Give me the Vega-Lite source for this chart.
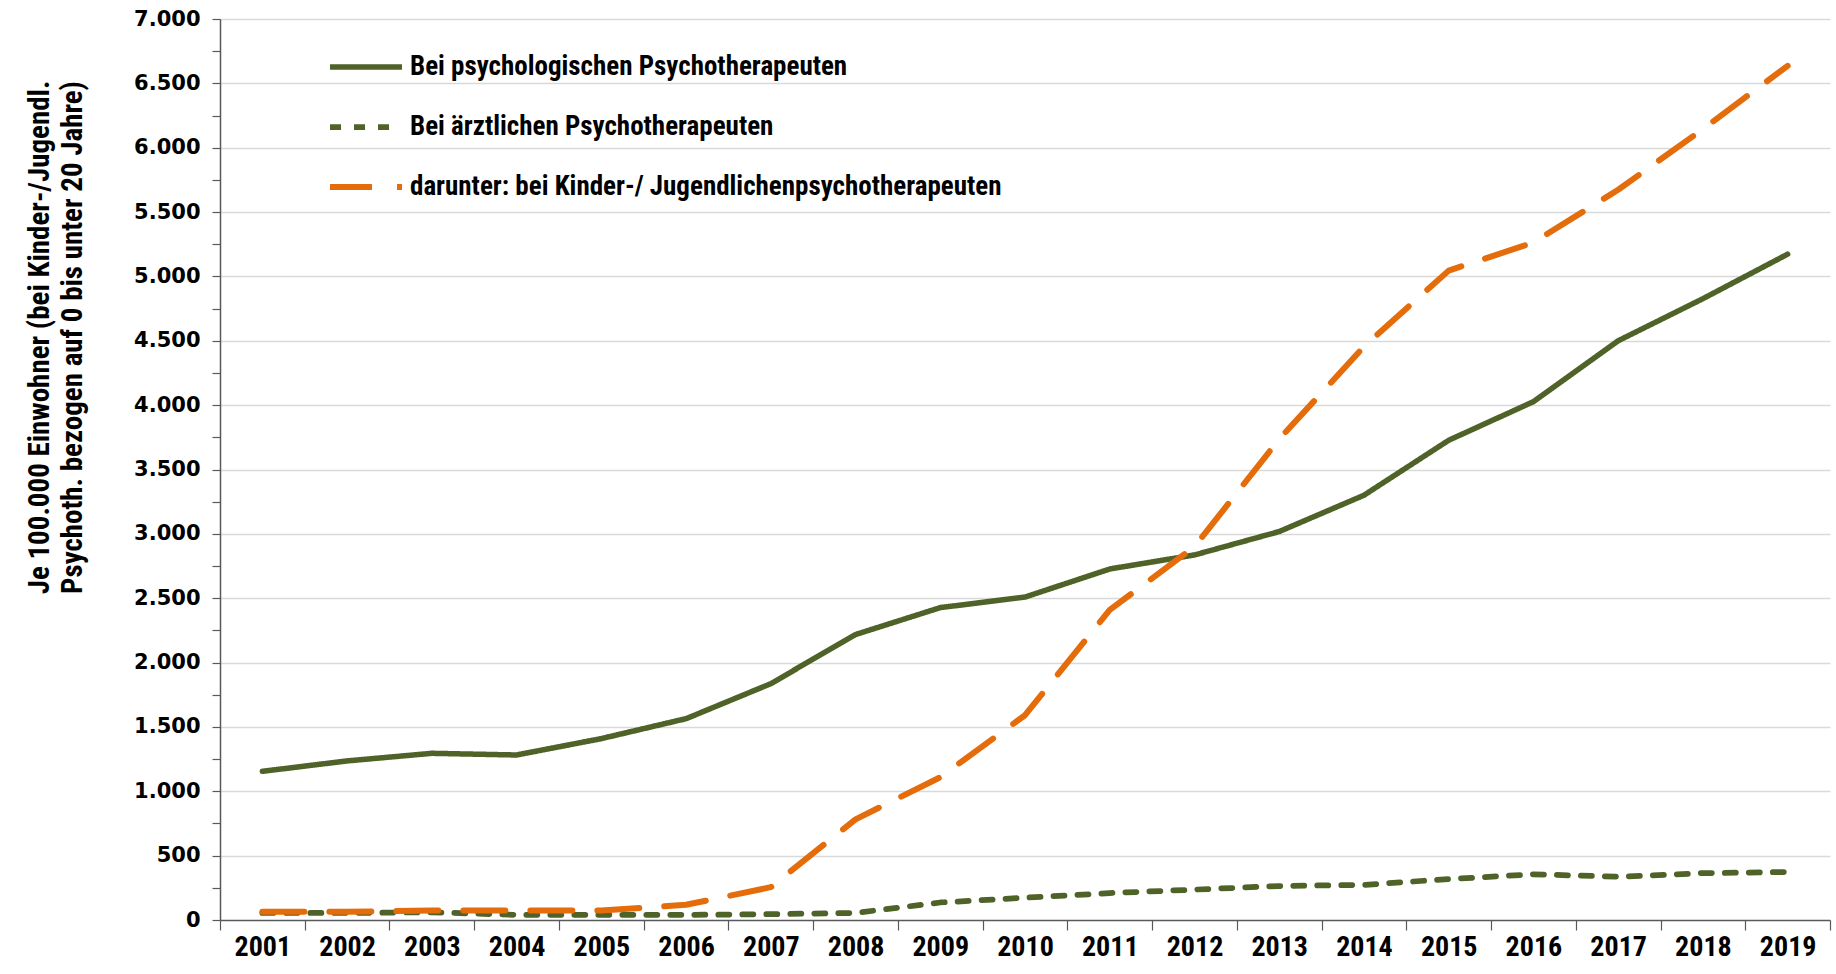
{
  "$schema": "https://vega.github.io/schema/vega-lite/v6.json",
  "autosize": {"type": "none"},
  "width": 1610,
  "height": 901,
  "padding": {"left": 220, "top": 19, "right": 6, "bottom": 54},
  "background": "white",
  "config": {"view": {"stroke": null}},
  "data": {"values": [
    {"Jahr": "2001", "Reihe": "Bei psychologischen Psychotherapeuten", "Wert": 1155},
    {"Jahr": "2002", "Reihe": "Bei psychologischen Psychotherapeuten", "Wert": 1236},
    {"Jahr": "2003", "Reihe": "Bei psychologischen Psychotherapeuten", "Wert": 1295},
    {"Jahr": "2004", "Reihe": "Bei psychologischen Psychotherapeuten", "Wert": 1282},
    {"Jahr": "2005", "Reihe": "Bei psychologischen Psychotherapeuten", "Wert": 1409},
    {"Jahr": "2006", "Reihe": "Bei psychologischen Psychotherapeuten", "Wert": 1564},
    {"Jahr": "2007", "Reihe": "Bei psychologischen Psychotherapeuten", "Wert": 1836},
    {"Jahr": "2008", "Reihe": "Bei psychologischen Psychotherapeuten", "Wert": 2218},
    {"Jahr": "2009", "Reihe": "Bei psychologischen Psychotherapeuten", "Wert": 2427},
    {"Jahr": "2010", "Reihe": "Bei psychologischen Psychotherapeuten", "Wert": 2509},
    {"Jahr": "2011", "Reihe": "Bei psychologischen Psychotherapeuten", "Wert": 2727},
    {"Jahr": "2012", "Reihe": "Bei psychologischen Psychotherapeuten", "Wert": 2836},
    {"Jahr": "2013", "Reihe": "Bei psychologischen Psychotherapeuten", "Wert": 3018},
    {"Jahr": "2014", "Reihe": "Bei psychologischen Psychotherapeuten", "Wert": 3300},
    {"Jahr": "2015", "Reihe": "Bei psychologischen Psychotherapeuten", "Wert": 3727},
    {"Jahr": "2016", "Reihe": "Bei psychologischen Psychotherapeuten", "Wert": 4027},
    {"Jahr": "2017", "Reihe": "Bei psychologischen Psychotherapeuten", "Wert": 4500},
    {"Jahr": "2018", "Reihe": "Bei psychologischen Psychotherapeuten", "Wert": 4827},
    {"Jahr": "2019", "Reihe": "Bei psychologischen Psychotherapeuten", "Wert": 5173},
    {"Jahr": "2001", "Reihe": "Bei ärztlichen Psychotherapeuten", "Wert": 55},
    {"Jahr": "2002", "Reihe": "Bei ärztlichen Psychotherapeuten", "Wert": 55},
    {"Jahr": "2003", "Reihe": "Bei ärztlichen Psychotherapeuten", "Wert": 60},
    {"Jahr": "2004", "Reihe": "Bei ärztlichen Psychotherapeuten", "Wert": 40},
    {"Jahr": "2005", "Reihe": "Bei ärztlichen Psychotherapeuten", "Wert": 40},
    {"Jahr": "2006", "Reihe": "Bei ärztlichen Psychotherapeuten", "Wert": 40},
    {"Jahr": "2007", "Reihe": "Bei ärztlichen Psychotherapeuten", "Wert": 45},
    {"Jahr": "2008", "Reihe": "Bei ärztlichen Psychotherapeuten", "Wert": 55},
    {"Jahr": "2009", "Reihe": "Bei ärztlichen Psychotherapeuten", "Wert": 136},
    {"Jahr": "2010", "Reihe": "Bei ärztlichen Psychotherapeuten", "Wert": 173},
    {"Jahr": "2011", "Reihe": "Bei ärztlichen Psychotherapeuten", "Wert": 209},
    {"Jahr": "2012", "Reihe": "Bei ärztlichen Psychotherapeuten", "Wert": 236},
    {"Jahr": "2013", "Reihe": "Bei ärztlichen Psychotherapeuten", "Wert": 264},
    {"Jahr": "2014", "Reihe": "Bei ärztlichen Psychotherapeuten", "Wert": 273},
    {"Jahr": "2015", "Reihe": "Bei ärztlichen Psychotherapeuten", "Wert": 318},
    {"Jahr": "2016", "Reihe": "Bei ärztlichen Psychotherapeuten", "Wert": 355},
    {"Jahr": "2017", "Reihe": "Bei ärztlichen Psychotherapeuten", "Wert": 336},
    {"Jahr": "2018", "Reihe": "Bei ärztlichen Psychotherapeuten", "Wert": 364},
    {"Jahr": "2019", "Reihe": "Bei ärztlichen Psychotherapeuten", "Wert": 373},
    {"Jahr": "2001", "Reihe": "darunter: bei Kinder-/ Jugendlichenpsychotherapeuten", "Wert": 64},
    {"Jahr": "2002", "Reihe": "darunter: bei Kinder-/ Jugendlichenpsychotherapeuten", "Wert": 64},
    {"Jahr": "2003", "Reihe": "darunter: bei Kinder-/ Jugendlichenpsychotherapeuten", "Wert": 73},
    {"Jahr": "2004", "Reihe": "darunter: bei Kinder-/ Jugendlichenpsychotherapeuten", "Wert": 73},
    {"Jahr": "2005", "Reihe": "darunter: bei Kinder-/ Jugendlichenpsychotherapeuten", "Wert": 73},
    {"Jahr": "2006", "Reihe": "darunter: bei Kinder-/ Jugendlichenpsychotherapeuten", "Wert": 118},
    {"Jahr": "2007", "Reihe": "darunter: bei Kinder-/ Jugendlichenpsychotherapeuten", "Wert": 255},
    {"Jahr": "2008", "Reihe": "darunter: bei Kinder-/ Jugendlichenpsychotherapeuten", "Wert": 782},
    {"Jahr": "2009", "Reihe": "darunter: bei Kinder-/ Jugendlichenpsychotherapeuten", "Wert": 1109},
    {"Jahr": "2010", "Reihe": "darunter: bei Kinder-/ Jugendlichenpsychotherapeuten", "Wert": 1591},
    {"Jahr": "2011", "Reihe": "darunter: bei Kinder-/ Jugendlichenpsychotherapeuten", "Wert": 2409},
    {"Jahr": "2012", "Reihe": "darunter: bei Kinder-/ Jugendlichenpsychotherapeuten", "Wert": 2900},
    {"Jahr": "2013", "Reihe": "darunter: bei Kinder-/ Jugendlichenpsychotherapeuten", "Wert": 3736},
    {"Jahr": "2014", "Reihe": "darunter: bei Kinder-/ Jugendlichenpsychotherapeuten", "Wert": 4455},
    {"Jahr": "2015", "Reihe": "darunter: bei Kinder-/ Jugendlichenpsychotherapeuten", "Wert": 5045},
    {"Jahr": "2016", "Reihe": "darunter: bei Kinder-/ Jugendlichenpsychotherapeuten", "Wert": 5264},
    {"Jahr": "2017", "Reihe": "darunter: bei Kinder-/ Jugendlichenpsychotherapeuten", "Wert": 5673},
    {"Jahr": "2018", "Reihe": "darunter: bei Kinder-/ Jugendlichenpsychotherapeuten", "Wert": 6145},
    {"Jahr": "2019", "Reihe": "darunter: bei Kinder-/ Jugendlichenpsychotherapeuten", "Wert": 6636}
  ]},
  "mark": {"type": "line", "strokeCap": "round", "strokeJoin": "round", "interpolate": "linear"},
  "encoding": {
    "x": {
      "field": "Jahr", "type": "ordinal",
      "scale": {"type": "band", "paddingInner": 0, "paddingOuter": 0},
      "axis": {
        "title": null, "labelAngle": 0, "grid": false,
        "tickBand": "extent", "tickSize": 10, "tickColor": "#595959", "tickWidth": 1.2,
        "domainColor": "#595959", "domainWidth": 1.5,
        "labelFont": "Roboto Condensed, Liberation Sans", "labelFontWeight": "bold",
        "labelFontSize": 28, "labelColor": "#000000", "labelPadding": 3
      }
    },
    "y": {
      "field": "Wert", "type": "quantitative",
      "scale": {"domain": [0, 7000], "nice": false},
      "axis": {
        "title": ["Je 100.000 Einwohner (bei Kinder-/Jugendl.", "Psychoth. bezogen auf  0 bis unter 20 Jahre)"],
        "titleFont": "Roboto Condensed, Liberation Sans", "titleFontWeight": "bold",
        "titleFontSize": 29, "titleColor": "#000000", "titleLineHeight": 33,
        "titleAngle": 270, "titleAlign": "center", "titleBaseline": "middle",
        "titleX": -181, "titleY": 318,
        "values": [0, 250, 500, 750, 1000, 1250, 1500, 1750, 2000, 2250, 2500, 2750, 3000, 3250, 3500, 3750, 4000, 4250, 4500, 4750, 5000, 5250, 5500, 5750, 6000, 6250, 6500, 6750, 7000],
        "labelExpr": "datum.value % 500 === 0 ? replace(format(datum.value, ','), ',', '.') : ''",
        "labelFont": "DejaVu Sans", "labelFontWeight": "bold", "labelFontSize": 21, "labelColor": "#000000",
        "labelPadding": 12,
        "grid": true, "gridColor": "#D9D9D9", "gridWidth": 1.5,
        "gridOpacity": {"condition": {"test": "datum.value % 500 === 0 && datum.value > 0", "value": 1}, "value": 0},
        "tickSize": 8, "tickColor": "#595959", "tickWidth": 1.2,
        "domainColor": "#595959", "domainWidth": 1.5
      }
    },
    "color": {
      "field": "Reihe", "type": "nominal",
      "scale": {
        "domain": ["Bei psychologischen Psychotherapeuten", "Bei ärztlichen Psychotherapeuten", "darunter: bei Kinder-/ Jugendlichenpsychotherapeuten"],
        "range": ["#4F6228", "#4F6228", "#E46C0A"]
      },
      "legend": {
        "title": null, "orient": "none", "legendX": 107, "legendY": 9,
        "symbolType": "stroke", "symbolSize": 5184, "symbolStrokeWidth": 5.5,
        "labelFont": "Roboto Condensed, Liberation Sans", "labelFontWeight": "bold",
        "labelFontSize": 27, "labelColor": "#000000", "labelOffset": 5, "rowPadding": 8, "labelLimit": 900
      }
    },
    "strokeDash": {
      "field": "Reihe", "type": "nominal",
      "scale": {
        "domain": ["Bei psychologischen Psychotherapeuten", "Bei ärztlichen Psychotherapeuten", "darunter: bei Kinder-/ Jugendlichenpsychotherapeuten"],
        "range": [[1, 0], [11, 13], [42, 25]]
      },
      "legend": null
    },
    "strokeWidth": {
      "field": "Reihe", "type": "nominal",
      "scale": {
        "domain": ["Bei psychologischen Psychotherapeuten", "Bei ärztlichen Psychotherapeuten", "darunter: bei Kinder-/ Jugendlichenpsychotherapeuten"],
        "range": [5.5, 6, 5]
      },
      "legend": null
    }
  }
}
